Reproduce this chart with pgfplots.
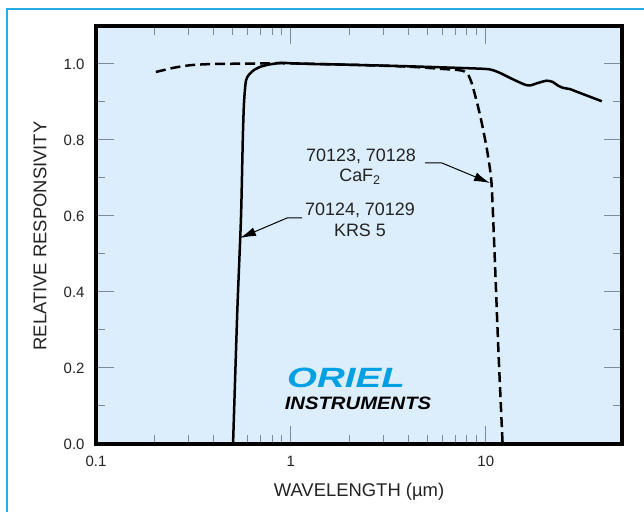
\documentclass[border=0pt]{standalone}
\usepackage{pgfplots}
\pgfplotsset{compat=1.18}
\usepackage{fontspec}
\setmainfont{Liberation Sans}
\usetikzlibrary{arrows.meta}
\definecolor{bgblue}{RGB}{220,238,251}
\definecolor{framecyan}{RGB}{41,171,226}
\definecolor{orielblue}{RGB}{0,160,227}
\definecolor{txt}{RGB}{35,35,35}
\definecolor{tickgray}{RGB}{125,138,150}
\begin{document}
\begin{tikzpicture}
\path[use as bounding box, fill=white] (0,0) rectangle (644bp,512bp);
\draw[framecyan, line width=1.5bp] (7bp,0) -- (7bp,503bp) -- (644bp,503bp);
\begin{axis}[
  scale only axis, width=526bp, height=418bp,
  at={(96bp,68bp)}, anchor=south west,
  xmode=log, xmin=0.1, xmax=50, ymin=0, ymax=1.1,
  axis background/.style={fill=bgblue},
  axis line style={line width=3.5bp, black},
  xtick={0.1,1,10}, xticklabels={0.1,1,10},
  ytick={0,0.2,0.4,0.6,0.8,1.0},
  yticklabels={0.0,0.2,0.4,0.6,0.8,1.0},
  minor ytick={0.1,0.3,0.5,0.7,0.9},
  tick align=inside,
  major tick length=18bp, minor tick length=9bp,
  every tick/.style={tickgray, line width=1bp},
  tick label style={font=\fontsize{15}{18}\selectfont, text=txt},
  yticklabel style={anchor=east, xshift=-8bp},
  xticklabel style={anchor=north, yshift=-9bp},
  clip=true,
]
\addplot[black, line width=2.5bp, smooth, tension=0.4] coordinates {
(0.505,0) (0.531,0.35) (0.555,0.6) (0.567,0.81) (0.575,0.9) (0.588,0.956)
(0.61,0.972) (0.646,0.984) (0.70,0.993) (0.762,0.998) (0.89,1.003) (1.0,1.002)
(1.31,1.0) (2,0.998) (4,0.994) (7,0.99) (10,0.987) (11,0.983) (12,0.975)
(14,0.958) (16,0.945) (17,0.944) (18.5,0.95) (20.5,0.956) (22,0.953)
(23.5,0.943) (25,0.937) (27,0.934) (30,0.925) (35,0.912) (39.4,0.902)
};
\addplot[black, line width=2.5bp, dash pattern=on 10bp off 5bp, smooth, tension=0.4] coordinates {
(0.203,0.979) (0.25,0.99) (0.307,0.997) (0.4,1.0) (0.6,1.001) (0.9,1.002)
(2,0.998) (4,0.993) (6,0.987) (7.27,0.984) (7.8,0.98) (8.1,0.973) (8.4,0.955)
(8.6,0.938) (9.0,0.9) (9.4,0.86) (9.8,0.815) (10.2,0.767) (10.7,0.687)
(11.1,0.5) (11.6,0.25) (12.2,0)
};
\end{axis}
% axis labels
\node[text=txt, font=\fontsize{18.5}{22}\selectfont] at (359bp,20bp) {WAVELENGTH (µm)};
\node[text=txt, rotate=90, font=\fontsize{18.5}{22}\selectfont] at (40bp,276bp) {RELATIVE RESPONSIVITY};
% annotations
\node[text=txt, font=\fontsize{18}{21}\selectfont] at (361bp,356bp) {70123, 70128};
\node[text=txt, font=\fontsize{18}{21}\selectfont] at (360bp,335bp) {CaF\textsubscript{2}};
\node[text=txt, font=\fontsize{18}{21}\selectfont] at (360bp,302bp) {70124, 70129};
\node[text=txt, font=\fontsize{18}{21}\selectfont] at (360bp,282bp) {KRS 5};
\draw[black, line width=1bp, -{Latex[length=16bp,width=9bp]}] (425bp,349bp) -- (442bp,349bp) -- (490bp,329bp);
\draw[black, line width=1bp, -{Latex[length=16bp,width=9bp]}] (302bp,294bp) -- (287bp,294bp) -- (240bp,274bp);
% logo
\node[text=orielblue, font=\fontsize{28}{30}\selectfont\bfseries\itshape, xscale=1.38] at (346bp,134bp) {ORIEL};
\node[text=black, font=\fontsize{18}{20}\selectfont\bfseries\itshape, xscale=1.13] at (358bp,108.5bp) {INSTRUMENTS};
\end{tikzpicture}
\end{document}
